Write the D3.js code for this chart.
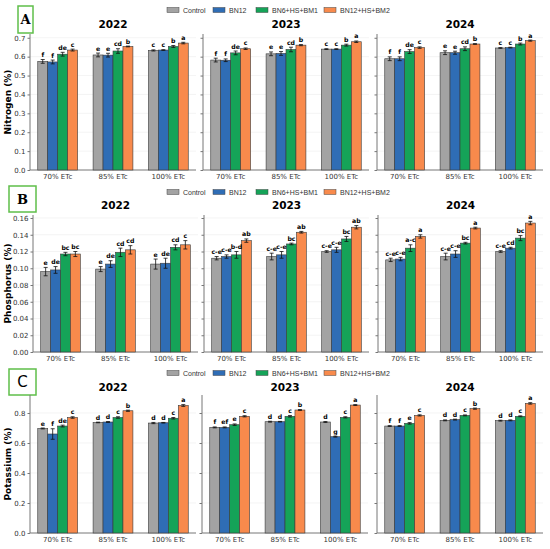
<!DOCTYPE html>
<meta charset="utf-8">
<style>
  body { margin: 0; background: #fff; }
  text { font-family: "DejaVu Sans", sans-serif; }
  .tick text { font-size: 7px; fill: #333; }
  .title { font-size: 10.5px; font-weight: bold; text-anchor: middle; }
  .ylabel { font-size: 9px; font-weight: bold; text-anchor: middle; }
  .sig { font-size: 6.2px; font-weight: bold; text-anchor: middle; }
  .legend text { font-family: "Liberation Sans", Arial, sans-serif; font-size: 7px; fill: #333; }
</style>
<svg width="550" height="549"></svg>
<script src="https://d3js.org/d3.v7.min.js"></script>
<script>

  var treatments = ["Control", "BN12", "BN6+HS+BM1", "BN12+HS+BM2"];
  var etcLevels = ["70% ETc", "85% ETc", "100% ETc"];
  var years = ["2022", "2023", "2024"];
  var colors = ["#a3a3a3", "#2f6db5", "#15a358", "#f88a4c"];

  // nitrogen (%) -- rows are ETc levels, columns are treatments
  var nitrogen2022 = [[0.575, 0.572, 0.613, 0.635], [0.609, 0.608, 0.630, 0.654], [0.633, 0.635, 0.654, 0.672]];
  var nitrogen2022Err = [[0.010, 0.010, 0.010, 0.005], [0.010, 0.010, 0.012, 0.002], [0.003, 0.002, 0.005, 0.004]];
  var nitrogen2022Sig = [["f", "f", "de", "c"], ["e", "e", "cd", "b"], ["c", "c", "b", "a"]];
  var nitrogen2023 = [[0.582, 0.581, 0.620, 0.642], [0.615, 0.617, 0.638, 0.661], [0.640, 0.640, 0.661, 0.679]];
  var nitrogen2023Err = [[0.010, 0.007, 0.010, 0.004], [0.010, 0.010, 0.012, 0.003], [0.002, 0.002, 0.005, 0.004]];
  var nitrogen2023Sig = [["f", "f", "de", "c"], ["e", "e", "cd", "b"], ["c", "c", "b", "a"]];
  var nitrogen2024 = [[0.589, 0.589, 0.627, 0.648], [0.621, 0.621, 0.642, 0.667], [0.646, 0.648, 0.667, 0.685]];
  var nitrogen2024Err = [[0.010, 0.010, 0.010, 0.004], [0.010, 0.008, 0.010, 0.002], [0.002, 0.002, 0.005, 0.003]];
  var nitrogen2024Sig = [["f", "f", "de", "c"], ["e", "e", "cd", "b"], ["c", "c", "b", "a"]];

  // phosphorus (%)
  var phosphorus2022 = [[0.096, 0.098, 0.117, 0.117], [0.099, 0.105, 0.119, 0.122], [0.105, 0.106, 0.125, 0.128]];
  var phosphorus2022Err = [[0.005, 0.004, 0.002, 0.003], [0.003, 0.004, 0.005, 0.005], [0.006, 0.006, 0.003, 0.005]];
  var phosphorus2022Sig = [["e", "de", "bc", "bc"], ["e", "de", "cd", "cd"], ["e", "de", "cd", "c"]];
  var phosphorus2023 = [[0.112, 0.114, 0.116, 0.133], [0.114, 0.116, 0.129, 0.143], [0.120, 0.122, 0.135, 0.149]];
  var phosphorus2023Err = [[0.002, 0.002, 0.004, 0.002], [0.004, 0.004, 0.001, 0.001], [0.001, 0.003, 0.003, 0.002]];
  var phosphorus2023Sig = [["c-e", "c-e", "b-d", "ab"], ["c-e", "c-e", "bc", "ab"], ["c-e", "c-e", "bc", "ab"]];
  var phosphorus2024 = [[0.110, 0.111, 0.124, 0.138], [0.114, 0.117, 0.130, 0.148], [0.120, 0.124, 0.136, 0.154]];
  var phosphorus2024Err = [[0.002, 0.002, 0.004, 0.002], [0.004, 0.004, 0.001, 0.001], [0.001, 0.001, 0.003, 0.002]];
  var phosphorus2024Sig = [["c-e", "c-e", "a-c", "a"], ["c-e", "c-e", "bc", "a"], ["c-e", "cd", "bc", "a"]];

  // potassium (%)
  var potassium2022 = [[0.697, 0.660, 0.713, 0.770], [0.737, 0.740, 0.770, 0.815], [0.733, 0.735, 0.765, 0.850]];
  var potassium2022Err = [[0.003, 0.035, 0.006, 0.005], [0.002, 0.003, 0.005, 0.004], [0.004, 0.002, 0.005, 0.006]];
  var potassium2022Sig = [["e", "f", "de", "c"], ["d", "d", "c", "b"], ["d", "d", "c", "a"]];
  var potassium2023 = [[0.704, 0.704, 0.722, 0.778], [0.742, 0.742, 0.778, 0.820], [0.740, 0.642, 0.771, 0.853]];
  var potassium2023Err = [[0.003, 0.003, 0.005, 0.004], [0.003, 0.002, 0.005, 0.003], [0.003, 0.003, 0.004, 0.003]];
  var potassium2023Sig = [["f", "ef", "e", "c"], ["d", "d", "c", "b"], ["d", "g", "c", "a"]];
  var potassium2024 = [[0.713, 0.713, 0.731, 0.784], [0.751, 0.756, 0.784, 0.829], [0.749, 0.751, 0.778, 0.864]];
  var potassium2024Err = [[0.003, 0.003, 0.005, 0.004], [0.003, 0.003, 0.003, 0.004], [0.003, 0.003, 0.003, 0.005]];
  var potassium2024Sig = [["f", "f", "e", "c"], ["d", "d", "c", "b"], ["d", "d", "c", "a"]];

  var panels = [
    { letter: "A", font: "DejaVu Serif", fsize: 13, box: [18, 6, 15, 27], legendY: 10, titleY: 28,
      label: "Nitrogen (%)", ymax: 0.72, yTop: 34, yBottom: 170, ticks: d3.range(0, 0.71, 0.1), fmt: ".1f",
      spines: [30, 203, 377], width: 166,
      means: [nitrogen2022, nitrogen2023, nitrogen2024], errs: [nitrogen2022Err, nitrogen2023Err, nitrogen2024Err],
      sigs: [nitrogen2022Sig, nitrogen2023Sig, nitrogen2024Sig] },
    { letter: "B", font: "DejaVu Serif", fsize: 13, box: [9, 186, 27, 26], legendY: 192, titleY: 209,
      label: "Phosphorus (%)", ymax: 0.1636, yTop: 215, yBottom: 352, ticks: d3.range(0, 0.161, 0.02), fmt: ".2f",
      spines: [33, 204, 378], width: 165,
      means: [phosphorus2022, phosphorus2023, phosphorus2024], errs: [phosphorus2022Err, phosphorus2023Err, phosphorus2024Err],
      sigs: [phosphorus2022Sig, phosphorus2023Sig, phosphorus2024Sig] },
    { letter: "C", font: "DejaVu Sans", fsize: 15, box: [9, 369, 27, 26], legendY: 373, titleY: 391,
      label: "Potassium (%)", ymax: 0.92, yTop: 395, yBottom: 533, ticks: d3.range(0, 0.81, 0.2), fmt: ".1f",
      spines: [30, 202, 377], width: 166,
      means: [potassium2022, potassium2023, potassium2024], errs: [potassium2022Err, potassium2023Err, potassium2024Err],
      sigs: [potassium2022Sig, potassium2023Sig, potassium2024Sig] }
  ];

  var svg = d3.select("svg");
  var legendX = [167, 213, 256, 324];

  panels.forEach(function(p) {
    var g = svg.append("g");

    // panel letter box
    g.append("rect")
      .attr("x", p.box[0]).attr("y", p.box[1]).attr("width", p.box[2]).attr("height", p.box[3])
      .attr("fill", "none").attr("stroke", "#5fbf4a").attr("stroke-width", 1.5);
    g.append("text")
      .attr("x", p.box[0] + p.box[2] / 2).attr("y", p.box[1] + p.box[3] / 2 + p.fsize * 0.36)
      .attr("text-anchor", "middle").style("font-family", p.font).style("font-weight", p.letter === "C" ? "normal" : "bold")
      .style("font-size", p.fsize + "px").text(p.letter);

    // legend
    var lg = g.append("g").attr("class", "legend");
    treatments.forEach(function(t, i) {
      lg.append("rect").attr("x", legendX[i]).attr("y", p.legendY - 2.5).attr("width", 12).attr("height", 5)
        .attr("fill", colors[i]).attr("stroke", "#444").attr("stroke-width", 0.5);
      lg.append("text").attr("x", legendX[i] + 16).attr("y", p.legendY + 2.5).text(t);
    });

    // y label
    g.append("text").attr("class", "ylabel")
      .attr("transform", "translate(11," + (p.yTop + p.yBottom) / 2 + ") rotate(-90)")
      .text(p.label);

    var y = d3.scaleLinear().domain([0, p.ymax]).range([p.yBottom, p.yTop]);

    years.forEach(function(yr, k) {
      var left = p.spines[k];
      var x0 = d3.scaleBand().domain(etcLevels).range([left, left + p.width]).paddingInner(0.28).paddingOuter(0.14);
      var x1 = d3.scaleBand().domain(treatments).range([0, x0.bandwidth()]);
      var sub = g.append("g");

      // grid
      sub.selectAll(".grid").data(p.ticks.slice(1)).enter().append("line")
        .attr("x1", left).attr("x2", left + p.width)
        .attr("y1", function(d) { return y(d); }).attr("y2", function(d) { return y(d); })
        .attr("stroke", "#ececec").attr("stroke-width", 0.6);

      var yAxis = d3.axisLeft(y).tickValues(p.ticks).tickSize(2.5).tickPadding(2)
        .tickFormat(k === 0 ? d3.format(p.fmt) : "");
      var ya = sub.append("g").attr("transform", "translate(" + left + ",0)").call(yAxis);
      ya.select(".domain").attr("stroke", "#777").attr("d", "M0," + p.yTop + "V" + p.yBottom);
      ya.selectAll(".tick line").attr("stroke", "#777");

      var xAxis = d3.axisBottom(x0).tickSize(0).tickPadding(4);
      var xa = sub.append("g").attr("transform", "translate(0," + p.yBottom + ")").call(xAxis);
      xa.select(".domain").attr("stroke", "#777").attr("d", "M" + left + ",0H" + (left + p.width));

      sub.append("text").attr("class", "title")
        .attr("x", left + p.width / 2).attr("y", p.titleY).text(yr);

      var rows = [];
      etcLevels.forEach(function(e, i) {
        treatments.forEach(function(t, j) {
          rows.push({ etc: e, trt: t, j: j, v: p.means[k][i][j], err: p.errs[k][i][j], sig: p.sigs[k][i][j] });
        });
      });

      sub.selectAll(".bar").data(rows).enter().append("rect")
        .attr("x", function(d) { return x0(d.etc) + x1(d.trt); })
        .attr("y", function(d) { return y(d.v); })
        .attr("width", x1.bandwidth())
        .attr("height", function(d) { return y(0) - y(d.v); })
        .attr("fill", function(d) { return colors[d.j]; })
        .attr("stroke", "#3a3a3a").attr("stroke-width", 0.6);

      // error bars
      var eb = sub.selectAll(".err").data(rows).enter().append("g")
        .attr("transform", function(d) { return "translate(" + (x0(d.etc) + x1(d.trt) + x1.bandwidth() / 2) + ",0)"; });
      eb.append("line").attr("x1", 0).attr("x2", 0)
        .attr("y1", function(d) { return y(d.v - d.err); }).attr("y2", function(d) { return y(d.v + d.err); })
        .attr("stroke", "#111").attr("stroke-width", 0.8);
      eb.append("line").attr("x1", -2).attr("x2", 2)
        .attr("y1", function(d) { return y(d.v + d.err); }).attr("y2", function(d) { return y(d.v + d.err); })
        .attr("stroke", "#111").attr("stroke-width", 0.8);
      eb.append("line").attr("x1", -2).attr("x2", 2)
        .attr("y1", function(d) { return y(d.v - d.err); }).attr("y2", function(d) { return y(d.v - d.err); })
        .attr("stroke", "#111").attr("stroke-width", 0.8);
      eb.append("text").attr("class", "sig")
        .attr("y", function(d) { return y(d.v + d.err) - 2.5; })
        .text(function(d) { return d.sig; });
    });
  });

</script>
